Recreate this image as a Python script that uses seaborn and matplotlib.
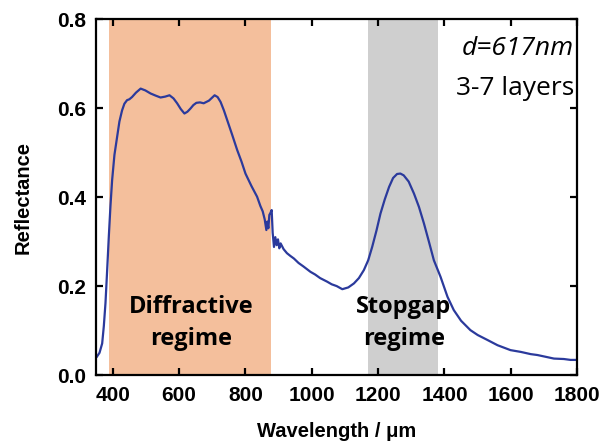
import numpy as np
import pandas as pd
import seaborn as sns
import matplotlib.pyplot as plt

# reflectance spectrum
wavelength = [351, 360, 368, 373, 378, 383, 388, 393, 398, 405, 413, 420, 428, 435, 443, 450, 458,
              470, 484, 498, 514, 530, 544, 558, 571, 583, 594, 605, 616, 625, 634, 643, 652, 663,
              674, 690, 707, 716, 725, 735, 745, 760, 775, 788, 800, 818, 835, 845, 852, 858, 863,
              866, 869, 872, 875, 879, 882, 886, 890, 894, 898, 902, 906, 915, 925, 935, 946,
              960, 975, 996, 1010, 1025, 1046, 1060, 1075, 1092, 1110, 1127, 1142, 1157, 1170,
              1182, 1195, 1207, 1220, 1233, 1245, 1257, 1267, 1277, 1292, 1308, 1323, 1338, 1353,
              1368, 1388, 1409, 1428, 1450, 1478, 1500, 1529, 1560, 1599, 1630, 1660, 1680, 1705,
              1730, 1760, 1780, 1800]
reflectance = [0.040, 0.050, 0.071, 0.110, 0.162, 0.235, 0.311, 0.380, 0.438, 0.495, 0.535, 0.570,
               0.595, 0.610, 0.618, 0.620, 0.625, 0.635, 0.644, 0.640, 0.633, 0.628, 0.624, 0.626,
               0.629, 0.622, 0.611, 0.598, 0.588, 0.592, 0.599, 0.607, 0.612, 0.613, 0.611, 0.617,
               0.629, 0.625, 0.614, 0.595, 0.573, 0.540, 0.506, 0.480, 0.453, 0.425, 0.401, 0.380,
               0.368, 0.350, 0.326, 0.345, 0.330, 0.360, 0.364, 0.371, 0.320, 0.288, 0.310, 0.292,
               0.305, 0.285, 0.296, 0.283, 0.274, 0.268, 0.262, 0.252, 0.244, 0.232, 0.226, 0.218,
               0.210, 0.204, 0.200, 0.193, 0.197, 0.206, 0.218, 0.236, 0.258, 0.288, 0.325, 0.363,
               0.395, 0.423, 0.443, 0.452, 0.453, 0.449, 0.435, 0.408, 0.378, 0.341, 0.300, 0.258,
               0.221, 0.176, 0.146, 0.122, 0.101, 0.090, 0.079, 0.067, 0.056, 0.052, 0.047, 0.045,
               0.041, 0.037, 0.036, 0.034, 0.034]

diffractive = (388, 877)
stopgap = (1168, 1381)

df = pd.DataFrame({"Wavelength": wavelength, "Reflectance": reflectance})

sns.set_style("ticks")
plt.rcParams['font.family'] = ['Liberation Sans', 'DejaVu Sans']
plt.rcParams['text.color'] = 'black'
plt.rcParams['axes.labelcolor'] = 'black'

fig = plt.figure(figsize=(6.05, 4.47), dpi=100)
ax = fig.add_axes([0.159, 0.161, 0.795, 0.796])

ax.axvspan(*diffractive, color='#F4BF9C', lw=0, zorder=0)
ax.axvspan(*stopgap, color='#CFCFCF', lw=0, zorder=0)

sns.lineplot(data=df, x="Wavelength", y="Reflectance", ax=ax, color='#2B3A9C', lw=1.6)

ax.set_xlim(350, 1800)
ax.set_ylim(0, 0.8)
ax.set_xticks([400, 600, 800, 1000, 1200, 1400, 1600, 1800])
ax.set_yticks([0.0, 0.2, 0.4, 0.6, 0.8])
ax.set_yticklabels(['0.0', '0.2', '0.4', '0.6', '0.8'])

for s in ax.spines.values():
    s.set_visible(True)
    s.set_linewidth(1.6)
    s.set_color('black')
ax.tick_params(direction='in', length=5, width=1.6, top=True, right=True,
               labelsize=15, pad=7, colors='black')
ax.tick_params(axis='x', pad=8)
for lab in ax.get_xticklabels() + ax.get_yticklabels():
    lab.set_fontweight('bold')

ax.set_xlabel('Wavelength / μm', fontsize=14.5, fontweight='bold', labelpad=12)
ax.set_ylabel('Reflectance', fontsize=14.5, fontweight='bold', labelpad=18)

tfont = ['Open Sans', 'DejaVu Sans']
ax.text(635, 0.153, 'Diffractive', ha='center', va='center', fontsize=17,
        fontweight='bold', family=tfont)
ax.text(635, 0.080, 'regime', ha='center', va='center', fontsize=17,
        fontweight='bold', family=tfont)
ax.text(1278, 0.153, 'Stopgap', ha='center', va='center', fontsize=17,
        fontweight='bold', family=tfont)
ax.text(1278, 0.080, 'regime', ha='center', va='center', fontsize=17,
        fontweight='bold', family=tfont)

ax.text(1790, 0.735, 'd=617nm', ha='right', va='center', fontsize=19,
        style='italic', family=tfont)
ax.text(1790, 0.645, '3-7 layers', ha='right', va='center', fontsize=19, family=tfont)

fig.savefig('out.png', dpi=100)
